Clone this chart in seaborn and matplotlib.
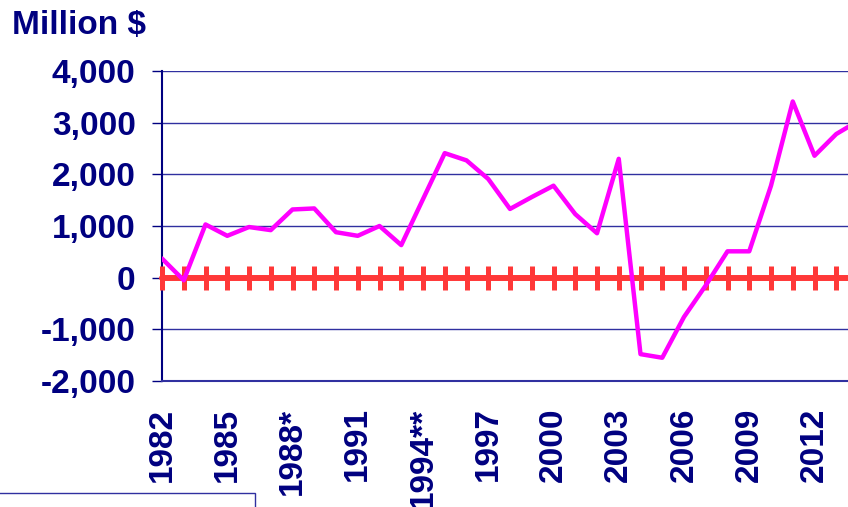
import numpy as np
import pandas as pd
import seaborn as sns
import matplotlib
matplotlib.use("Agg")
import matplotlib.pyplot as plt
import matplotlib.ticker as tick
from matplotlib.patches import Rectangle

# data (million $)
years = list(range(1982, 2015))
values = [370, -50, 1030, 810, 980, 920, 1320, 1340, 880, 810, 1000, 630,
          1520, 2410, 2270, 1910, 1330, 1560, 1780, 1230, 860, 2300,
          -1480, -1550, -760, -150, 510, 510, 1780, 3410, 2360, 2780, 3030]
zero_line = [0] * len(years)

tick_years = [1982, 1985, 1988, 1991, 1994, 1997, 2000, 2003, 2006, 2009, 2012]
tick_labels = ["1982", "1985", "1988*", "1991", "1994**", "1997", "2000",
               "2003", "2006", "2009", "2012"]

navy = "#000080"

sns.set_style("white")
plt.rcParams['font.family'] = ['Liberation Sans', 'DejaVu Sans']
plt.rcParams['font.weight'] = 'bold'
plt.rcParams['axes.unicode_minus'] = False

df = pd.DataFrame({"year": years, "value": values, "zero": zero_line})

fig = plt.figure(figsize=(8.48, 5.07), dpi=100)
ax = fig.add_axes([162 / 848, 1 - 381 / 507, 1 - 162 / 848, (381 - 71) / 507])

for yv in range(-1000, 5000, 1000):
    ax.axhline(yv, color="#3030a0", lw=1.0, zorder=1)

sns.lineplot(data=df, x="year", y="zero", ax=ax, color="#ff3838", lw=4.3,
             marker="|", markersize=17, markeredgewidth=3.6,
             markeredgecolor="#ff3838", zorder=3, clip_on=False)
sns.lineplot(data=df, x="year", y="value", ax=ax, color="#ff00ff", lw=3.2,
             zorder=4)

ax.set_xlim(1982, 1982 + (848 - 162) / 21.75)
ax.set_ylim(-2000, 4000)
ax.set_yticks(range(-2000, 5000, 1000))
ax.yaxis.set_major_formatter(tick.FuncFormatter(lambda v, p: f"{int(v):,}"))
ax.set_xticks(tick_years)
ax.set_xticklabels(tick_labels, rotation=90)

ax.tick_params(axis="y", length=7, width=1, color=navy, pad=12,
               labelsize=24, labelcolor=navy, left=True)
ax.tick_params(axis="x", length=0, pad=19, labelsize=24, labelcolor=navy)
for lab in ax.get_xticklabels() + ax.get_yticklabels():
    lab.set_fontweight("bold")

for side in ["top", "right"]:
    ax.spines[side].set_visible(False)
ax.spines["left"].set_color(navy)
ax.spines["left"].set_linewidth(1.5)
ax.spines["bottom"].set_color("#3030a0")
ax.spines["bottom"].set_linewidth(1.5)
ax.set_xlabel("")
ax.set_ylabel("")

fig.text(12 / 848, 1 - 10 / 507, "Million $", color=navy, fontsize=24,
         fontweight="bold", ha="left", va="top")

fig.patches.append(Rectangle((-0.01, -0.01), 255 / 848 + 0.01, (507 - 493) / 507 + 0.01,
                             transform=fig.transFigure, fill=False,
                             edgecolor="#3030a0", lw=1.0))

fig.savefig("out.png", dpi=100)
